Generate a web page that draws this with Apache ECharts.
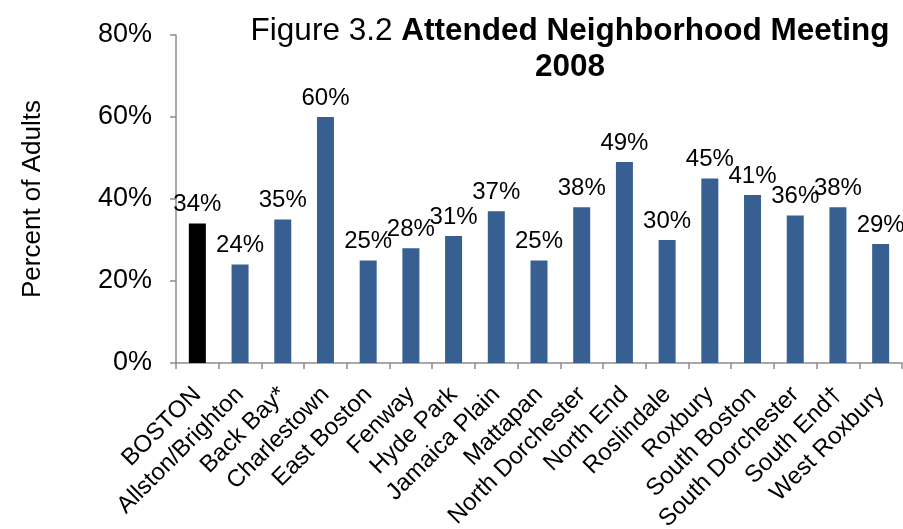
<!DOCTYPE html>
<html>
<head>
<meta charset="utf-8">
<title>Attended Neighborhood Meeting 2008</title>
<script src="https://cdn.jsdelivr.net/npm/echarts@6/dist/echarts.min.js"></script>
<style>
  html, body { margin: 0; padding: 0; background: #fff; }
  #main { width: 903px; height: 529px; }
</style>
</head>
<body>
<div id="main"></div>
<script>
// neighborhoods, BOSTON first (drawn black)
const categories = [
    'BOSTON', 'Allston/Brighton', 'Back Bay*', 'Charlestown', 'East Boston',
    'Fenway', 'Hyde Park', 'Jamaica Plain', 'Mattapan', 'North Dorchester',
    'North End', 'Roslindale', 'Roxbury', 'South Boston', 'South Dorchester',
    'South End\u2020', 'West Roxbury'
];
// percent of adults who attended a neighborhood meeting
const values = [34, 24, 35, 60, 25, 28, 31, 37, 25, 38, 49, 30, 45, 41, 36, 38, 29];
const yTicks = [0, 20, 40, 60, 80];

const font = '"Liberation Sans", Arial, sans-serif';
const blue = '#375f92';

const chart = echarts.init(document.getElementById('main'));

const option = {
    animation: false,
    textStyle: { fontFamily: font },
    title: {
        left: 565,
        top: 8,
        textAlign: 'center',
        text: '{n|Figure 3.2 }{b|Attended Neighborhood Meeting}\n{b|2008}',
        textStyle: {
            rich: {
                n: { fontFamily: font, fontSize: 31.5, fontWeight: 'normal', color: '#000', lineHeight: 36 },
                b: { fontFamily: font, fontSize: 31.5, fontWeight: 'bold', color: '#000', lineHeight: 36 }
            }
        }
    },
    grid: { left: 176, right: 1, top: 35, bottom: 166, outerBoundsMode: 'none', containLabel: false },
    xAxis: {
        type: 'category',
        data: categories,
        axisLine: { lineStyle: { color: '#8c8c8c', width: 1.5 } },
        axisTick: { show: true, length: 6, lineStyle: { color: '#8c8c8c', width: 1.5 } },
        axisLabel: {
            rotate: 45,
            interval: 0,
            margin: 28,
            fontSize: 24,
            color: '#000',
            fontFamily: font
        }
    },
    yAxis: {
        type: 'value',
        min: yTicks[0],
        max: yTicks[yTicks.length - 1],
        interval: 20,
        name: 'Percent of Adults',
        nameLocation: 'middle',
        nameGap: 130,
        nameTextStyle: { fontSize: 26, color: '#000', fontFamily: font },
        splitLine: { show: false },
        axisLine: { show: true, lineStyle: { color: '#8c8c8c', width: 1.5 } },
        axisTick: { show: true, length: 6, lineStyle: { color: '#8c8c8c', width: 1.5 } },
        axisLabel: {
            margin: 24,
            fontSize: 27,
            color: '#000',
            fontFamily: font,
            formatter: v => v + '%'
        }
    },
    series: [{
        type: 'bar',
        barWidth: 17,
        data: values.map((v, i) => ({
            value: v,
            itemStyle: { color: i === 0 ? '#000' : blue }
        })),
        label: {
            show: true,
            position: 'top',
            distance: 7,
            fontSize: 24,
            color: '#000',
            fontFamily: font,
            formatter: p => p.value + '%'
        }
    }]
};

chart.setOption(option);
</script>
</body>
</html>
